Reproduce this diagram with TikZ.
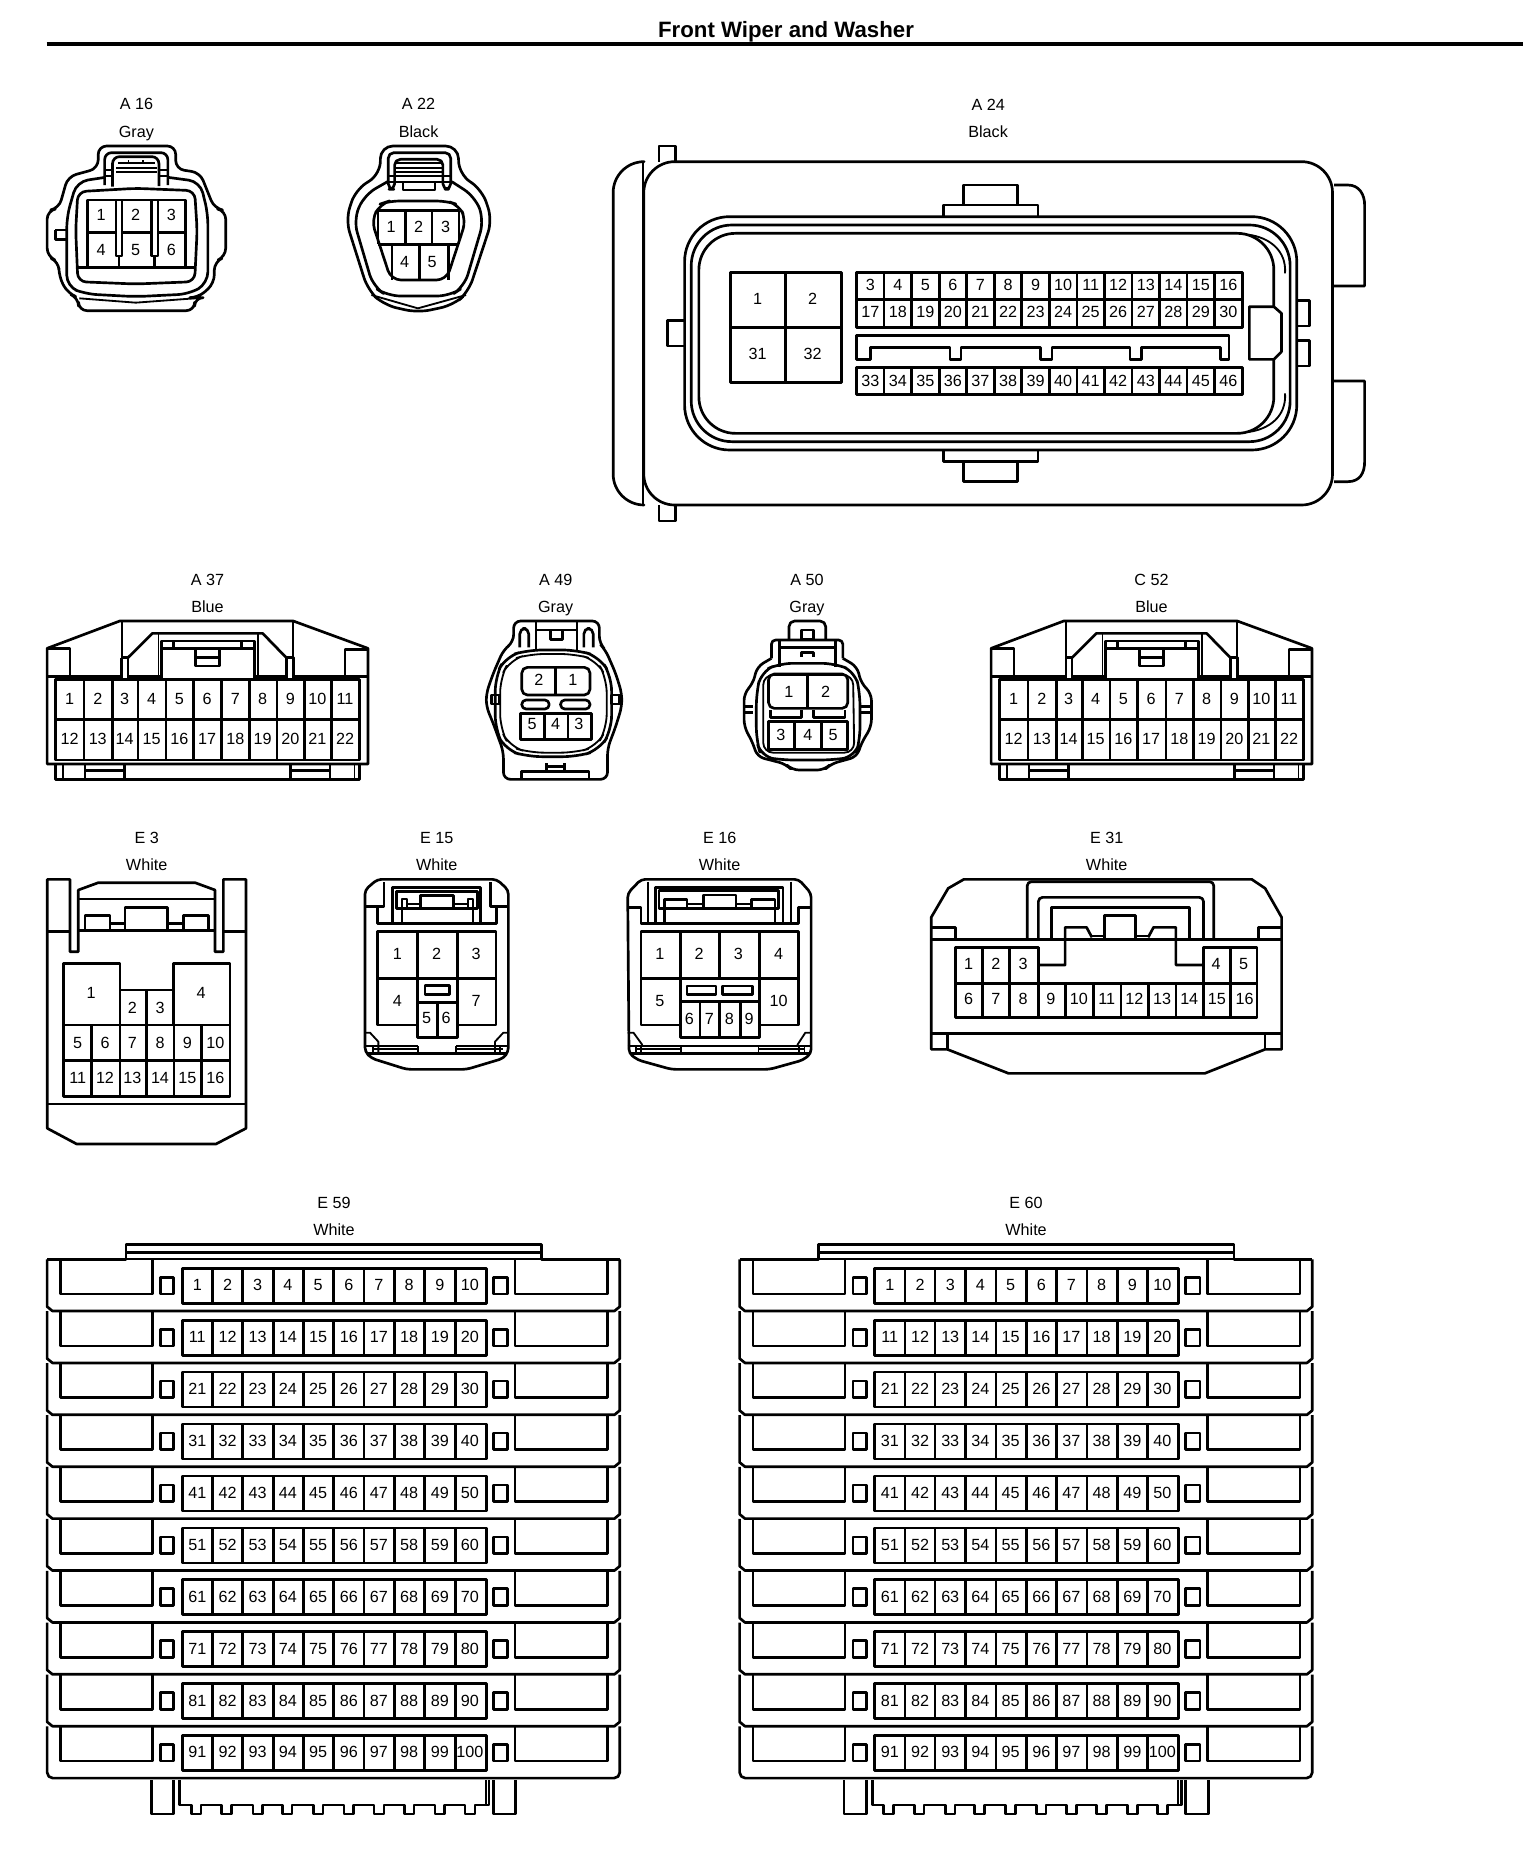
\documentclass[tikz,border=0pt]{standalone}
\usepackage{fontspec}
\setmainfont{Liberation Sans}
\newcount\pinctr
\newcommand\pn[3]{\global\advance\pinctr by 1 \node[pinnum] (pin\the\pinctr) at (#1,#2) {#3};}
\newcommand\lbl[4]{\global\advance\pinctr by 1 \node[capt] (id\the\pinctr) at (#1,#2) {#3}; \node[capt] (col\the\pinctr) at (#1,#2+83) {#4};}
\tikzset{
 zv/.style n args={3}{shift={(#1,#2)},x={0.025cm/#3},y={-0.025cm/3}},
 pinnum/.style={font=\fontsize{11.5pt}{12pt}\selectfont,inner sep=0pt,text height=.7em,text depth=0pt,yshift=-0.4pt},
 capt/.style={font=\fontsize{11.5pt}{12pt}\selectfont,inner sep=0pt,text height=.7em,text depth=0pt,yshift=-0.7pt},
 ln/.style={line width=1.9pt,line join=round},
 thn/.style={line width=1.3pt,line join=round},
}
\newcommand\bluebody{%
 \draw[ln] (42,612)--(42,265)--(220,183)--(645,183)--(828,265)--(828,612)--cycle;
 \draw[ln] (42,265)--(98,265)--(98,350) (828,268)--(772,268)--(772,350);
 \draw[ln] (42,350)--(225,350) (240,350)--(322,350) (550,350)--(628,350) (645,350)--(828,350);
 \draw[thn] (225,185)--(225,293);
 \draw[thn] (645,185)--(645,293);
 \draw[ln] (225,293)--(225,358) (240,293)--(240,358) (225,293)--(240,293);
 \draw[ln] (628,358)--(628,293)--(645,293)--(645,358);
 \draw[ln] (240,293)--(300,220)--(570,220)--(628,293);
 \draw[thn] (315,222)--(315,350) (558,222)--(558,350);
 \draw[ln] (322,243) rectangle (550,358);
 \draw[ln] (322,265)--(550,265) (352,243)--(352,265) (518,243)--(518,265);
 \draw[ln] (405,265)--(405,318)--(465,318)--(465,265) (405,293)--(465,293);
 \draw[ln] (62,358) rectangle (808,600);
 \draw[ln] (62,478)--(808,478);
 \foreach \x in {132,202,265,333,400,470,537,605,672,738} \draw[ln] (\x,358)--(\x,600);
 \foreach \x/\n in {97/1,166/2,232/3,298/4,366/5,434/6,503/7,570/8,638/9,704/10,772/11} \pn{\x}{418}{\n};
 \foreach \x/\n in {97/12,166/13,232/14,298/15,366/16,434/17,503/18,570/19,638/20,704/21,772/22} \pn{\x}{538}{\n};
 \draw[ln] (62,612)--(62,658)--(808,658)--(808,612);
 \draw[thn] (80,612)--(80,658) (795,612)--(795,658);
 \draw[ln] (135,612)--(135,655) (232,612)--(232,655) (638,612)--(638,655) (735,612)--(735,655);
 \draw[ln] (135,632)--(232,632) (638,632)--(735,632);
}
\newcommand\panelset[1]{% #1 x offset px
 \foreach \i in {0,...,9}{
  \begin{scope}[zv={30+#1}{1180+\i*51.9}{2.45}]
   \ifnum\i=9
    \draw[ln,rounded corners=4pt] (42,238)--(42,393)--(1445,393)--(1445,238);
   \else
    \draw[ln] (42,238)--(42,380)--(55,393)--(1432,393)--(1445,380)--(1445,238);
   \fi
   \draw[ln] (75,240)--(75,342)--(300,342)--(300,240);
   \draw[ln] (1188,240)--(1188,342)--(1415,342)--(1415,240);
   \draw[ln] (320,292) rectangle (352,342);
   \draw[ln] (1135,292) rectangle (1170,342);
   \draw[ln] (373,265) rectangle (1118,370);
   \foreach \x in {447,521,596,670,744,818,893,967,1042} \draw[ln] (\x,265)--(\x,370);
   \foreach \k/\x in {1/410,2/484,3/558,4/632,5/706,6/781,7/855,8/929,9/1004,10/1078}{
     \pgfmathtruncatemacro\nn{\i*10+\k}
     \pn{\x}{316}{\nn}
   }
  \end{scope}
 }
 \begin{scope}[zv={30+#1}{1180}{2.45}]
  \draw[ln] (42,238)--(235,238)--(235,193)--(1253,193)--(1253,238)--(1445,238);
  \draw[ln] (235,218)--(1253,218);
  \draw[thn] (235,238)--(1253,238);
 \end{scope}
 \begin{scope}[zv={30+#1}{1660}{2.45}]
  \draw[ln] (298,360)--(298,462)--(352,462)--(352,360);
  \draw[ln] (1135,360)--(1135,462)--(1190,462)--(1190,360);
  \draw[ln] (367,360)--(367,435)
   \foreach \c in {407,482,558,630,706,781,855,929,1004,1078}{ --(\c-12,435)--(\c-12,462)--(\c+12,462)--(\c+12,435)}
   --(1125,435)--(1125,360);
  \draw[thn] (1117,360)--(1117,435);
 \end{scope}
}
\begin{document}
\begin{tikzpicture}[x=0.025cm,y=-0.025cm]
\useasboundingbox (0,0) rectangle (1536,1860);
\fill[white] (0,0) rectangle (1536,1860);
\node[font=\bfseries\fontsize{15.8pt}{17pt}\selectfont,inner sep=0pt,text height=.7em,text depth=0pt] (title) at (786,32.5) {Front Wiper and Washer};
\coordinate (ruleL) at (46.5,44); \coordinate (ruleR) at (1523,44);
\draw[line width=2.9pt] (ruleL)--(ruleR);

% ---------- A16 / A22
\begin{scope}[zv={0}{0}{2.8}]
 \lbl{382}{312}{A 16}{Gray}
 \draw[ln,rounded corners=6pt] (275,505)--(275,438)--(492,438)--(492,507)--(560,518)--(600,625)--(632,632)--(632,770)--(600,785)--(600,850)--(555,893)--(545,893)--(545,932)--(220,932)--(220,893)--(190,880)--(165,830)--(165,785)--(132,770)--(132,632)--(165,625)--(190,530)--cycle;
 \draw[ln] (155,690)--(155,718)--(188,718) (155,690)--(188,690);
 \draw[ln,rounded corners=8pt] (295,532)--(215,545)--(187,650)--(187,860)--(240,882)--(380,890)--(530,882)--(582,850)--(582,640)--(560,545)--(470,532);
 \draw[ln,rounded corners=6pt] (218,575)--(380,565)--(545,572)--(552,690)--(545,845)--(380,852)--(218,845)--(212,690)--cycle;
 \draw[thn] (222,895)--(380,908)--(545,895);
 \draw[ln,rounded corners=5pt] (293,555)--(293,458)--(470,458)--(470,555);
 \draw[ln,rounded corners=5pt] (315,560)--(315,470)--(445,470)--(445,558);
 \draw[thn] (330,490)--(435,490) (360,480)--(360,490) (400,480)--(400,490) (325,505)--(440,505) (325,517)--(440,517);
 \draw[thn] (293,510)--(315,510) (293,527)--(315,527) (445,510)--(470,510) (445,527)--(470,527);
 \draw[ln] (245,802)--(245,600)--(520,600)--(520,802);
 \draw[ln] (215,802)--(550,802);
 \draw[ln] (245,698)--(325,698) (342,698)--(425,698) (442,698)--(520,698);
 \draw[ln] (325,600)--(325,768)--(342,768)--(342,600) (425,600)--(425,768)--(442,768)--(442,600);
 \draw[ln] (333,768)--(333,802) (433,768)--(433,802);
 \foreach \x/\y/\n in {283/645/1,380/645/2,480/645/3,283/750/4,380/750/5,480/750/6} \pn{\x}{\y}{\n};

 \lbl{1172}{312}{A 22}{Black}
 \draw[ln,rounded corners=9pt] (1065,522)--(1065,438)--(1283,438)--(1285,522)--(1350,570)--(1378,660)--(1312,875)--(1270,915)--(1170,938)--(1075,915)--(1030,870)--(968,660)--(995,570)--cycle;
 \draw[ln,rounded corners=9pt] (1085,545)--(1020,585)--(990,660)--(1045,860)--(1085,888)--(1260,888)--(1300,860)--(1355,660)--(1330,590)--(1265,545);
 \draw[thn] (1040,885)--(1170,925)--(1305,885);
 \draw[ln,rounded corners=4pt] (1087,568)--(1087,458)--(1262,458)--(1262,568)--(1240,568)--(1240,478)--(1105,478)--(1105,568)--cycle;
 \draw[ln] (1128,545)--(1128,570)--(1218,570)--(1218,545);
 \draw[thn] (1105,490)--(1240,490) (1105,505)--(1240,505) (1105,517)--(1240,517) (1087,527)--(1262,527) (1087,545)--(1262,545);
 \draw[ln,rounded corners=7pt] (1040,660)--(1065,612)--(1090,603)--(1250,603)--(1285,615)--(1305,660)--(1250,840)--(1095,840)--cycle;
 \draw[ln] (1058,632)--(1285,632) (1058,733)--(1285,733);
 \draw[ln] (1058,632)--(1058,733) (1135,632)--(1135,733) (1210,632)--(1210,733) (1285,632)--(1285,733);
 \draw[ln] (1098,733)--(1098,840) (1175,733)--(1175,840) (1255,733)--(1255,840);
 \foreach \x/\y/\n in {1095/680/1,1172/680/2,1248/680/3,1133/785/4,1210/785/5} \pn{\x}{\y}{\n};
\end{scope}

% ---------- A24
\begin{scope}[zv={580}{80}{1.96}]
 \lbl{800}{73}{A 24}{Black}
 \draw[ln] (155,245)--(155,198)--(187,198)--(187,245);
 \draw[ln] (155,1275)--(155,1323)--(187,1323)--(187,1275);
 \draw[ln,rounded corners=22pt] (125,245)--(65,245)--(65,1275)--(125,1275);
 \draw[thn] (123,245)--(123,1275);
 \draw[ln,rounded corners=22pt] (125,245) -- (1475,245)--(1475,1275)--(125,1275)--cycle;
 \draw[ln] (1478,315)--(1505,315) .. controls (1528,315) and (1538,345) .. (1538,375)--(1538,618)--(1478,618);
 \draw[ln] (1478,903)--(1538,903)--(1538,1145) .. controls (1538,1180) and (1528,1205) .. (1505,1205)--(1478,1205);
 \draw[ln] (712,410)--(712,375)--(898,375)--(898,410) (752,375)--(752,315)--(858,315)--(858,375);
 \draw[ln] (712,1110)--(712,1145)--(898,1145)--(898,1110) (752,1145)--(752,1205)--(858,1205)--(858,1145);
 \draw[ln] (203,722)--(172,722)--(172,798)--(203,798);
 \draw[ln] (1405,662)--(1430,662)--(1430,738)--(1405,738) (1405,782)--(1430,782)--(1430,858)--(1405,858);
 \draw[ln,rounded corners=32pt] (205,410) rectangle (1405,1110);
 \draw[ln,rounded corners=29pt] (218,435) rectangle (1392,1085);
 \draw[ln,rounded corners=26pt] (233,460) rectangle (1360,1060);
 \draw[thn] (1310,464) .. controls (1350,472) and (1385,510) .. (1382,580);
 \draw[thn] (1310,1056) .. controls (1350,1048) and (1385,1010) .. (1382,940);
 \draw[ln,fill=white] (1360,680)--(1312,680)--(1312,838)--(1360,838)--(1375,815)--(1375,700)--cycle;
 \draw[ln] (295,577) rectangle (512,908) (403,577)--(403,908) (295,743)--(512,743);
 \foreach \x/\y/\n in {348/658/1,456/658/2,348/823/31,456/823/32} \pn{\x}{\y}{\n};
 \draw[ln] (542,577) rectangle (1298,743) (542,658)--(1298,658);
 \draw[ln] (542,862) rectangle (1298,943);
 \foreach \k in {1,...,13}{
   \pgfmathsetmacro\xx{542+54*\k}
   \draw[ln] (\xx,577)--(\xx,743) (\xx,862)--(\xx,943);
 }
 \foreach \k in {0,...,13}{
   \pgfmathsetmacro\xx{569+54*\k}
   \pgfmathtruncatemacro\na{3+\k}
   \pgfmathtruncatemacro\nb{17+\k}
   \pgfmathtruncatemacro\nc{33+\k}
   \pn{\xx}{615}{\na}
   \pn{\xx}{697}{\nb}
   \pn{\xx}{902}{\nc}
 }
 \draw[ln] (542,838)--(542,767)--(1272,767)--(1272,838)--(1255,838)--(1255,802)--(1100,802)--(1100,838)--(1078,838)--(1078,802)--(925,802)--(925,838)--(902,838)--(902,802)--(747,802)--(747,838)--(725,838)--(725,802)--(570,802)--(570,838)--cycle;
\end{scope}

% ---------- A37 / A49
\begin{scope}[zv={30}{560}{2.45}]
 \lbl{435}{58}{A 37}{Blue}
 \bluebody
 \lbl{1288}{58}{A 49}{Gray}
 \draw[ln,rounded corners=5pt] (1185,245)--(1185,183)--(1395,183)--(1395,250)--(1410,270)--(1435,340)--(1450,400)--(1450,440)--(1435,500)--(1415,565)--(1415,658)--(1160,658)--(1160,575)--(1135,490)--(1118,440)--(1118,400)--(1135,340)--(1160,270)--cycle;
 \draw[ln,rounded corners=4pt] (1200,262)--(1200,205)--(1222,205)--(1222,262) (1357,262)--(1357,205)--(1380,205)--(1380,262);
 \draw[ln] (1240,183)--(1240,270) (1340,183)--(1340,270) (1240,210)--(1340,210);
 \draw[ln] (1275,212)--(1275,238)--(1305,238)--(1305,212);
 \draw[ln,rounded corners=10pt] (1165,290)--(1220,270)--(1340,270)--(1395,290)--(1425,350)--(1425,510)--(1395,570)--(1340,590)--(1220,590)--(1165,570)--(1140,510)--(1140,350)--cycle;
 \draw[thn,rounded corners=10pt] (1175,300)--(1225,282)--(1335,282)--(1388,300)--(1413,355)--(1413,505)--(1388,560)--(1335,578)--(1225,578)--(1175,560)--(1152,505)--(1152,355)--cycle;
 \draw[ln] (1130,405) rectangle (1150,432) (1425,405) rectangle (1445,432);
 \draw[ln] (1205,658)--(1205,635)--(1370,635)--(1370,658) (1265,610)--(1265,635) (1310,610)--(1310,635) (1265,620)--(1310,620);
 \draw[ln,rounded corners=4pt] (1205,405)--(1205,322)--(1372,322)--(1372,405)--cycle;
 \draw[ln] (1288,322)--(1288,405);
 \foreach \x/\n in {1247/2,1330/1} \pn{\x}{360}{\n};
 \draw[ln,rounded corners=3pt] (1205,420) rectangle (1272,447);
 \draw[ln,rounded corners=3pt] (1300,420) rectangle (1372,447);
 \draw[ln] (1202,460) rectangle (1376,538) (1260,460)--(1260,538) (1318,460)--(1318,538);
 \foreach \x/\n in {1230/5,1288/4,1345/3} \pn{\x}{492}{\n};
\end{scope}

% ---------- A50
\begin{scope}[zv={700}{560}{2.45}]
 \lbl{262}{58}{A 50}{Gray}
 \draw[ln,rounded corners=4pt] (218,240)--(218,183)--(308,183)--(308,240);
 \draw[ln,rounded corners=3pt] (175,295)--(175,240)--(350,240)--(350,295);
 \draw[ln] (195,240)--(195,320) (332,240)--(332,320) (195,262)--(332,262);
 \draw[ln] (248,210) rectangle (278,238);
 \draw[ln] (248,290)--(248,278)--(278,278)--(278,290);
 \draw[ln,rounded corners=5pt] (175,295)--(140,320)--(130,370)--(108,400)--(108,500)--(130,550)--(140,590)--(210,612)--(225,630)--(305,630)--(320,612)--(385,590)--(395,550)--(420,500)--(420,400)--(395,370)--(385,320)--(350,295);
 \draw[ln,rounded corners=9pt] (195,310)--(150,335)--(138,400)--(138,540)--(150,590)--(200,600)--(325,600)--(380,590)--(392,540)--(392,400)--(380,335)--(330,310)--(262,310)--cycle;
 \draw[thn,rounded corners=7pt] (155,345)--(375,345)--(378,578)--(155,578)--cycle;
 \draw[ln] (108,440)--(130,440) (108,458)--(130,458) (395,440)--(420,440) (395,458)--(420,458);
 \draw[ln,rounded corners=4pt] (168,445)--(168,342)--(362,342)--(362,445)--cycle;
 \draw[ln] (264,345)--(264,445);
 \foreach \x/\n in {218/1,308/2} \pn{\x}{395}{\n};
 \draw[ln] (172,450)--(172,472)--(248,472)--(248,450) (278,450)--(278,472)--(355,472)--(355,450);
 \draw[ln] (168,485) rectangle (362,568) (232,485)--(232,568) (298,485)--(298,568);
 \foreach \x/\n in {198/3,264/4,326/5} \pn{\x}{525}{\n};
\end{scope}

% ---------- C52
\begin{scope}[zv={974}{560}{2.45}]
 \lbl{435}{58}{C 52}{Blue}
 \bluebody
\end{scope}

% ---------- E3 / E15
\begin{scope}[zv={30}{810}{3}]
 \lbl{350}{82}{E 3}{White}
 \draw[ln] (52,208)--(52,955)--(140,1002)--(558,1002)--(648,955)--(648,208)--(580,208)--(580,425)--(555,425)--(555,240)--(495,218)--(205,218)--(145,240)--(145,425)--(120,425)--(120,208)--cycle;
 \draw[ln] (145,267)--(555,267) (52,365)--(120,365) (145,362)--(555,362) (580,365)--(648,365);
 \draw[ln] (165,362)--(165,316)--(240,316)--(240,362) (285,362)--(285,292)--(413,292)--(413,362) (460,362)--(460,316)--(535,316)--(535,362) (240,340)--(285,340) (413,340)--(460,340);
 \draw[ln] (100,460)--(270,460)--(270,540)--(430,540)--(430,460)--(600,460)--(600,860)--(100,860)--cycle;
 \draw[ln] (100,645)--(600,645) (100,752)--(600,752) (270,540)--(270,645) (350,540)--(350,645) (430,540)--(430,645);
 \foreach \x in {185,270,350,432,515} \draw[ln] (\x,645)--(\x,860);
 \foreach \x/\y/\n in {183/550/1,513/550/4,307/593/2,390/593/3} \pn{\x}{\y}{\n};
 \foreach \x/\n in {143/5,225/6,307/7,390/8,472/9,556/10} \pn{\x}{698}{\n};
 \foreach \x/\n in {143/11,225/12,307/13,390/14,472/15,556/16} \pn{\x}{805}{\n};
 \draw[ln] (52,882)--(648,882);

 \lbl{1220}{82}{E 15}{White}
 \draw[ln,rounded corners=3pt] (1005,240)--(1042,208)--(1400,208)--(1435,240)--(1435,725)--(1420,745)--(1310,778)--(1130,778)--(1025,745)--(1005,725)--cycle;
 \draw[ln] (1005,290)--(1062,290)--(1062,215) (1435,290)--(1382,290)--(1382,215);
 \draw[ln] (1042,290)--(1042,340)--(1400,340)--(1400,290);
 \draw[ln] (1088,340)--(1088,232)--(1352,232)--(1352,340);
 \draw[ln] (1100,295)--(1100,245)--(1342,245)--(1342,295)--cycle;
 \draw[thn] (1115,340)--(1115,268)--(1130,268)--(1130,295) (1330,340)--(1330,268)--(1315,268)--(1315,295);
 \draw[ln] (1172,295)--(1172,257)--(1270,257)--(1270,295) (1130,282)--(1172,282) (1270,282)--(1315,282);
 \draw[ln] (1042,365)--(1398,365)--(1398,645)--(1282,645)--(1282,682)--(1162,682)--(1162,645)--(1042,645)--cycle;
 \draw[ln] (1042,505)--(1398,505) (1162,365)--(1162,682) (1282,365)--(1282,682) (1162,578)--(1282,578) (1222,578)--(1222,682);
 \draw[ln] (1185,527) rectangle (1258,553);
 \foreach \x/\y/\n in {1102/432/1,1220/432/2,1338/432/3,1102/572/4,1338/572/7,1190/625/5,1248/625/6} \pn{\x}{\y}{\n};
 \draw[thn] (1005,668)--(1020,668)--(1045,695)--(1045,730) (1435,668)--(1420,668)--(1395,695)--(1395,730);
 \draw[thn] (1005,708)--(1165,708) (1278,708)--(1435,708) (1030,718)--(1165,718) (1278,718)--(1420,718);
 \draw[ln] (1015,730)--(1428,730);
 \draw[thn] (1030,708)--(1030,730) (1410,708)--(1410,730) (1165,708)--(1165,730) (1278,708)--(1278,730);
\end{scope}

% ---------- E16 / E31
\begin{scope}[zv={600}{810}{2.24}]
 \lbl{268}{82}{E 16}{White}
 \draw[ln,rounded corners=3pt] (62,250)--(92,208)--(445,208)--(473,250)--(473,730)--(455,750)--(380,778)--(160,778)--(85,750)--(65,730)--cycle;
 \draw[ln] (62,292)--(92,292)--(92,340)--(445,340)--(445,292)--(473,292);
 \draw[thn] (108,215)--(108,340) (428,215)--(428,340);
 \draw[ln] (125,340)--(125,232)--(410,232)--(410,340);
 \draw[ln] (132,295)--(132,242)--(400,242)--(400,295)--cycle;
 \draw[ln] (145,340)--(145,268)--(195,268)--(195,295) (392,340)--(392,268)--(340,268)--(340,295);
 \draw[ln] (232,295)--(232,255)--(305,255)--(305,295) (195,282)--(232,282) (305,282)--(340,282);
 \draw[ln] (92,365)--(445,365)--(445,645)--(358,645)--(358,682)--(180,682)--(180,645)--(92,645)--cycle;
 \draw[ln] (92,505)--(445,505) (180,365)--(180,682) (268,365)--(268,505) (358,365)--(358,682) (180,575)--(358,575);
 \foreach \x in {224,268,314} \draw[ln] (\x,575)--(\x,682);
 \draw[ln] (195,528) rectangle (260,553) (275,528) rectangle (342,553);
 \foreach \x/\y/\n in {134/432/1,222/432/2,310/432/3,400/432/4,134/572/5,400/572/10,200/627/6,245/627/7,290/627/8,334/627/9} \pn{\x}{\y}{\n};
 \draw[thn] (62,668)--(75,668)--(95,705) (473,668)--(460,668)--(442,705);
 \draw[ln] (62,708)--(473,708) (68,730)--(468,730);
 \draw[thn] (80,718)--(182,718) (355,718)--(458,718);
 \draw[thn] (80,708)--(80,730) (92,708)--(92,730) (445,708)--(445,730) (458,708)--(458,730) (182,708)--(182,730) (355,708)--(355,730);

 \lbl{1135}{82}{E 31}{White}
 \draw[ln] (742,322)--(780,235)--(815,208)--(1460,208)--(1490,235)--(1527,322)--(1527,718)--(1490,718)--(1355,790)--(915,790)--(778,718)--(742,718)--cycle;
 \draw[ln] (742,352)--(797,352)--(797,388) (1475,388)--(1475,352)--(1527,352);
 \draw[ln] (742,388)--(1012,388) (1320,388)--(1527,388);
 \draw[ln] (1012,293) rectangle (1320,388);
 \draw[ln,rounded corners=3pt] (957,388)--(957,215)--(1375,215)--(1375,388);
 \draw[ln,rounded corners=3pt] (982,388)--(982,262)--(1352,262)--(1352,388);
 \draw[ln] (1102,382)--(1090,352)--(1042,352)--(1042,465)--(982,465);
 \draw[ln] (1228,382)--(1240,352)--(1290,352)--(1290,465)--(1352,465);
 \draw[ln] (1130,388)--(1130,317)--(1200,317)--(1200,388) (1100,378)--(1130,378) (1200,378)--(1230,378);
 \draw[ln] (797,412)--(982,412)--(982,520)--(1352,520)--(1352,412)--(1472,412)--(1472,622)--(797,622)--cycle;
 \draw[ln] (797,520)--(982,520) (1352,520)--(1472,520);
 \foreach \x in {857,918,982,1352,1412} \draw[ln] (\x,412)--(\x,622);
 \foreach \x in {1043,1105,1167,1228,1290} \draw[ln] (\x,520)--(\x,622);
 \foreach \x/\n in {826/1,887/2,948/3,1380/4,1442/5} \pn{\x}{462}{\n};
 \foreach \x/\n in {826/6,887/7,948/8,1010/9,1073/10,1135/11,1197/12,1259/13,1320/14,1382/15,1444/16} \pn{\x}{568}{\n};
 \draw[ln] (742,670)--(1527,670) (778,670)--(778,718) (1490,670)--(1490,718);
\end{scope}

% ---------- E59 / E60
\panelset{0}
\panelset{692.5}
\begin{scope}[zv={30}{1180}{2.45}]
 \lbl{745}{67}{E 59}{White}
\end{scope}
\begin{scope}[zv={722}{1180}{2.45}]
 \lbl{745}{67}{E 60}{White}
\end{scope}
\end{tikzpicture}
\end{document}
